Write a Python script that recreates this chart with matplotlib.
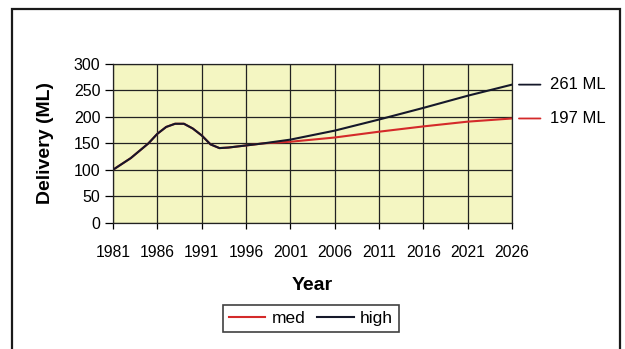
import matplotlib
matplotlib.use("Agg")
import matplotlib.pyplot as plt
from matplotlib.patches import Rectangle

plt.rcParams['font.family'] = ['Liberation Sans', 'DejaVu Sans']

# --- historical deliveries (shared by both scenarios) ---
hist_years = [1981, 1982, 1983, 1984, 1985, 1986, 1987, 1988, 1989, 1990,
              1991, 1992, 1993, 1994, 1995, 1996, 1998]
hist_vals = [100, 111, 122, 136, 150, 168, 181, 187, 187, 178,
             165, 148, 141, 142, 144, 146, 150]

# --- projections ---
proj_years = [2001, 2006, 2011, 2016, 2021, 2026]
med_proj = [153, 161, 172, 182, 191, 197]
high_proj = [157, 174, 195, 217, 240, 261]

years = hist_years + proj_years
med = hist_vals + med_proj
high = hist_vals + high_proj

xticks = list(range(1981, 2027, 5))
yticks = list(range(0, 301, 50))

fig = plt.figure(figsize=(6.25, 3.49), dpi=100)
ax = fig.add_axes([0.1808, 0.362, 0.6384, 0.4546])
ax.set_facecolor('#F4F6C2')

ax.plot(years, med, color='#D42A2A', lw=1.5, label='med')
ax.plot(years, high, color='#15182A', lw=1.5, label='high')

ax.set_xlim(1981, 2026)
ax.set_ylim(0, 300)
ax.set_xticks(xticks)
ax.set_yticks(yticks)
ax.grid(True, color='#222222', lw=0.9)
ax.set_axisbelow(True)
for s in ax.spines.values():
    s.set_color('#222222')
    s.set_linewidth(0.9)
ax.tick_params(axis='y', length=6, width=0.9, pad=3, labelsize=11.5)
ax.tick_params(axis='x', length=4, width=0.9, pad=12, labelsize=11.3)

ax.set_xlabel('Year', fontsize=14, fontweight='bold', labelpad=12)
ax.set_ylabel('Delivery (ML)', fontsize=14, fontweight='bold', labelpad=14)

# end-of-series labels
for series, col in [(high, '#15182A'), (med, '#D42A2A')]:
    ax.annotate(f'{series[-1]} ML', xy=(years[-1], series[-1]),
                xytext=(27, 0), textcoords='offset points',
                va='center', ha='left', fontsize=12, annotation_clip=False,
                arrowprops=dict(arrowstyle='-', color=col, lw=1.3,
                                shrinkA=4.5, shrinkB=5))

leg = fig.legend(loc='center', bbox_to_anchor=(0.4976, 0.088), ncol=2,
                 fontsize=12.5, frameon=True, fancybox=False, handlelength=2.1,
                 handletextpad=0.35, columnspacing=0.7, borderpad=0.35,
                 borderaxespad=0)
leg.get_frame().set_edgecolor('#111111')
leg.get_frame().set_linewidth(1.2)

# outer chart frame
fig.patches.append(Rectangle((12 / 625, -0.05), 608 / 625, 1.05 - 9 / 349,
                             transform=fig.transFigure, fill=False,
                             edgecolor='#1a1a1a', lw=1.6))

fig.savefig('out.png', dpi=100)
